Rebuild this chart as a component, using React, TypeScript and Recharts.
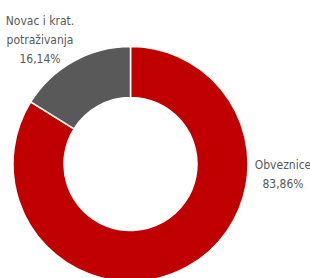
import { PieChart, Pie, Cell } from "recharts";

const categories = ["Obveznice", "Novac i krat. potraživanja"];
const labelLines = [["Obveznice"], ["Novac i krat.", "potraživanja"]];
const values = [83.86, 16.14];
const colors = ["#C00000", "#595959"];

const data = categories.map((name, i) => ({ name, value: values[i] }));

const FONT = '"Liberation Sans Narrow", "DejaVu Sans Condensed", "Open Sans", sans-serif';

function pctLabel(v: number) {
  return v.toFixed(2).replace(".", ",") + "%";
}

function SliceLabel(props: any) {
  const { cx, cy, outerRadius, index, value } = props;
  const lines = [...labelLines[index], pctLabel(value)];
  let x: number;
  let y: number;
  if (index === 0) {
    x = cx + outerRadius + 35;
    y = cy + 5;
  } else {
    x = cx - outerRadius + 27;
    y = cy - outerRadius - 22;
  }
  return (
    <text x={x} y={y} textAnchor="middle" fill="#595959" fontFamily={FONT} fontSize={12}>
      {lines.map((l, i) => (
        <tspan key={i} x={x} dy={i === 0 ? 0 : 19}>
          {l}
        </tspan>
      ))}
    </text>
  );
}

export default function App() {
  return (
    <div style={{ position: "absolute", left: 0, top: 0, width: 310, height: 278, background: "#fff" }}>
      <PieChart width={310} height={278} margin={{ top: 0, right: 0, bottom: 0, left: 0 }}>
        <Pie
          data={data}
          dataKey="value"
          nameKey="name"
          cx={130.5}
          cy={164}
          innerRadius={66.5}
          outerRadius={117.5}
          startAngle={90}
          endAngle={-270}
          stroke="#ffffff"
          strokeWidth={1.5}
          label={SliceLabel}
          labelLine={false}
          isAnimationActive={false}
        >
          {data.map((d, i) => (
            <Cell key={d.name} fill={colors[i]} />
          ))}
        </Pie>
      </PieChart>
    </div>
  );
}
